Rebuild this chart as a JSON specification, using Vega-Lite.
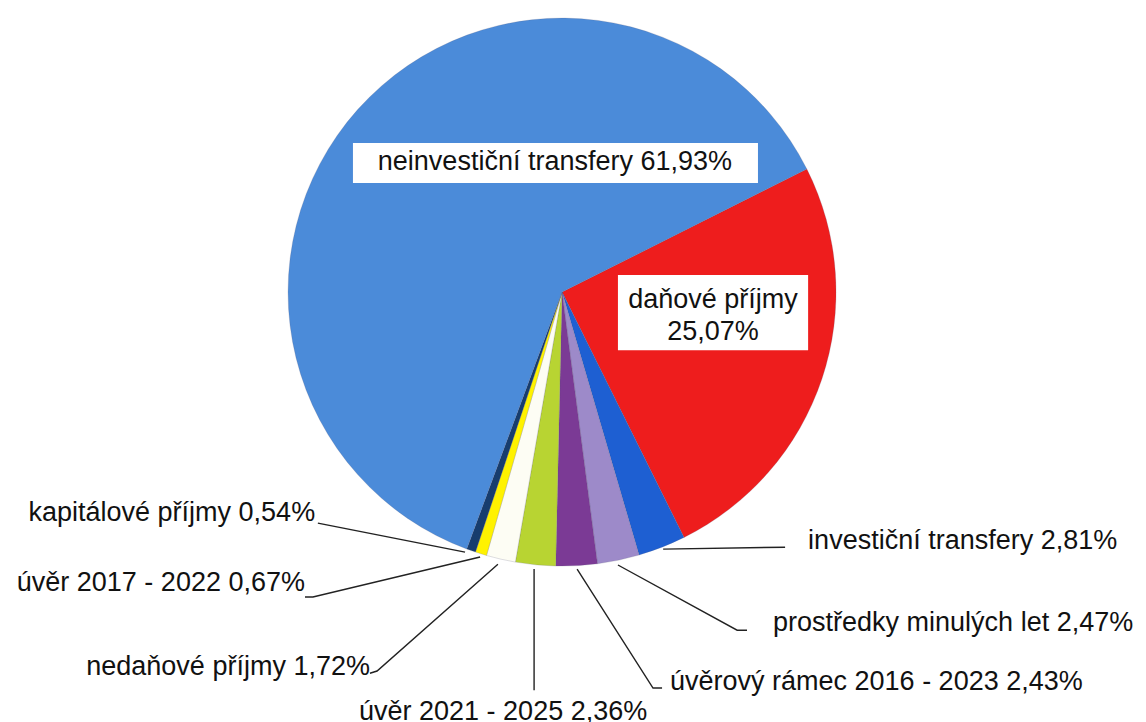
{
  "$schema": "https://vega.github.io/schema/vega-lite/v6.json",
  "width": 1146,
  "height": 722,
  "autosize": {"type": "none"},
  "padding": 0,
  "background": "#ffffff",
  "config": {"view": {"stroke": null}, "font": "Liberation Sans"},
  "datasets": {
    "slices": [
      {"name": "daňové příjmy", "value": 25.07, "rank": 1},
      {"name": "investiční transfery", "value": 2.81, "rank": 2},
      {"name": "prostředky minulých let", "value": 2.47, "rank": 3},
      {"name": "úvěrový rámec 2016 - 2023", "value": 2.43, "rank": 4},
      {"name": "úvěr 2021 - 2025", "value": 2.36, "rank": 5},
      {"name": "nedaňové příjmy", "value": 1.72, "rank": 6},
      {"name": "úvěr 2017 - 2022", "value": 0.67, "rank": 7},
      {"name": "kapitálové příjmy", "value": 0.54, "rank": 8},
      {"name": "neinvestiční transfery", "value": 61.93, "rank": 9}
    ],
    "boxes": [
      {"box": "neinvestiční transfery", "x1": -76.3, "x2": 71.5, "y1": 54.4, "y2": 39.8},
      {"box": "daňové příjmy", "x1": 20.4, "x2": 89.8, "y1": 6.2, "y2": -21.2}
    ],
    "labels": [
      {"label": "neinvestiční transfery 61,93%", "anchor": "center", "x": -2.6, "y": 47.4},
      {"label": "daňové příjmy\n25,07%", "anchor": "center", "x": 55.1, "y": -2.9},
      {"label": "úvěr 2021 - 2025 2,36%", "anchor": "center", "x": -21.5, "y": -153.3},
      {"label": "investiční transfery 2,81%", "anchor": "left", "x": 89.8, "y": -90.9},
      {"label": "prostředky minulých let 2,47%", "anchor": "left", "x": 77.0, "y": -120.8},
      {"label": "úvěrový rámec 2016 - 2023 2,43%", "anchor": "left", "x": 39.4, "y": -142.3},
      {"label": "nedaňové příjmy 1,72%", "anchor": "right", "x": -70.1, "y": -136.9},
      {"label": "úvěr 2017 - 2022 0,67%", "anchor": "right", "x": -93.8, "y": -106.2},
      {"label": "kapitálové příjmy 0,54%", "anchor": "right", "x": -90.1, "y": -80.6}
    ],
    "leaders": [
      {"leader": "investiční transfery", "i": 1, "x": 36.9, "y": -93.8},
      {"leader": "investiční transfery", "i": 2, "x": 81.4, "y": -93.1},
      {"leader": "prostředky minulých let", "i": 1, "x": 20.4, "y": -99.6},
      {"leader": "prostředky minulých let", "i": 2, "x": 63.9, "y": -123.4},
      {"leader": "prostředky minulých let", "i": 3, "x": 67.5, "y": -123.4},
      {"leader": "úvěrový rámec 2016 - 2023", "i": 1, "x": 5.5, "y": -101.1},
      {"leader": "úvěrový rámec 2016 - 2023", "i": 2, "x": 33.2, "y": -144.5},
      {"leader": "úvěrový rámec 2016 - 2023", "i": 3, "x": 36.5, "y": -144.5},
      {"leader": "úvěr 2021 - 2025", "i": 1, "x": -10.2, "y": -101.1},
      {"leader": "úvěr 2021 - 2025", "i": 2, "x": -10.2, "y": -145.3},
      {"leader": "nedaňové příjmy", "i": 1, "x": -23.4, "y": -99.3},
      {"leader": "nedaňové příjmy", "i": 2, "x": -67.5, "y": -138.3},
      {"leader": "nedaňové příjmy", "i": 3, "x": -70.1, "y": -139.1},
      {"leader": "úvěr 2017 - 2022", "i": 1, "x": -29.9, "y": -96.7},
      {"leader": "úvěr 2017 - 2022", "i": 2, "x": -90.9, "y": -111.3},
      {"leader": "úvěr 2017 - 2022", "i": 3, "x": -93.8, "y": -111.3},
      {"leader": "kapitálové příjmy", "i": 1, "x": -35.4, "y": -94.9},
      {"leader": "kapitálové příjmy", "i": 2, "x": -89.1, "y": -84.3}
    ]
  },
  "resolve": {"scale": {"x": "shared", "y": "shared"}},
  "layer": [
    {
      "data": {"name": "slices"},
      "mark": {"type": "arc", "radius": 274, "stroke": "#5a5a7a", "strokeWidth": 0.4, "strokeOpacity": 0.5},
      "encoding": {
        "theta": {"field": "value", "type": "quantitative", "stack": true,
                  "scale": {"domain": [0, 100], "range": [1.105, 7.388]}},
        "order": {"field": "rank", "type": "quantitative"},
        "color": {"field": "name", "type": "nominal", "legend": null,
          "scale": {
            "domain": ["daňové příjmy", "investiční transfery", "prostředky minulých let", "úvěrový rámec 2016 - 2023", "úvěr 2021 - 2025", "nedaňové příjmy", "úvěr 2017 - 2022", "kapitálové příjmy", "neinvestiční transfery"],
            "range": ["#ee1d1d", "#1e5fd2", "#9d8ac9", "#7b3a95", "#b8d432", "#fdfdf4", "#fff200", "#173d6e", "#4b8bd9"]
          }},
        "x": {"datum": 0, "type": "quantitative", "axis": null,
              "scale": {"domain": [-205.1, 213.1], "nice": false, "zero": false}},
        "y": {"datum": 0, "type": "quantitative", "axis": null,
              "scale": {"domain": [-156.9, 106.6], "nice": false, "zero": false}}
      }
    },
    {
      "data": {"name": "boxes"},
      "mark": {"type": "rect", "fill": "#ffffff"},
      "encoding": {
        "x": {"field": "x1", "type": "quantitative"},
        "x2": {"field": "x2"},
        "y": {"field": "y1", "type": "quantitative"},
        "y2": {"field": "y2"}
      }
    },
    {
      "data": {"name": "leaders"},
      "mark": {"type": "line", "color": "#222222", "strokeWidth": 1.4},
      "encoding": {
        "x": {"field": "x", "type": "quantitative"},
        "y": {"field": "y", "type": "quantitative"},
        "detail": {"field": "leader"},
        "order": {"field": "i", "type": "quantitative"}
      }
    },
    {
      "data": {"name": "labels"},
      "transform": [{"filter": "datum.anchor === 'center'"}],
      "mark": {"type": "text", "align": "center", "baseline": "middle", "fontSize": 27, "lineHeight": 32, "lineBreak": "\n", "color": "#111111"},
      "encoding": {
        "x": {"field": "x", "type": "quantitative"},
        "y": {"field": "y", "type": "quantitative"},
        "text": {"field": "label"}
      }
    },
    {
      "data": {"name": "labels"},
      "transform": [{"filter": "datum.anchor === 'left'"}],
      "mark": {"type": "text", "align": "left", "baseline": "middle", "fontSize": 27, "color": "#111111"},
      "encoding": {
        "x": {"field": "x", "type": "quantitative"},
        "y": {"field": "y", "type": "quantitative"},
        "text": {"field": "label"}
      }
    },
    {
      "data": {"name": "labels"},
      "transform": [{"filter": "datum.anchor === 'right'"}],
      "mark": {"type": "text", "align": "right", "baseline": "middle", "fontSize": 27, "color": "#111111"},
      "encoding": {
        "x": {"field": "x", "type": "quantitative"},
        "y": {"field": "y", "type": "quantitative"},
        "text": {"field": "label"}
      }
    }
  ]
}
